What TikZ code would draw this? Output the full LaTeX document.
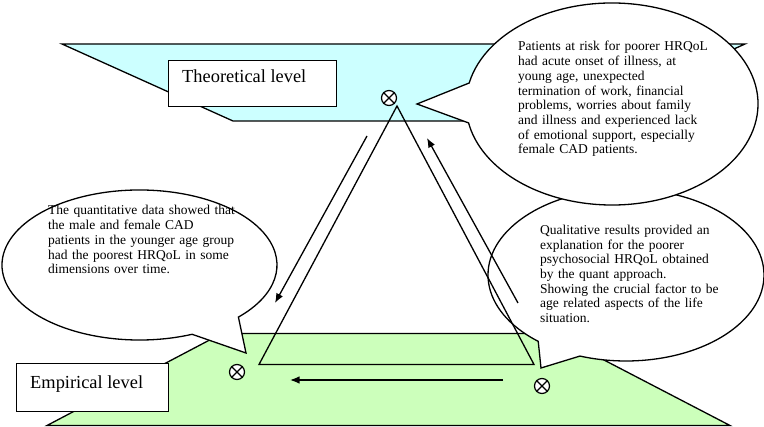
\documentclass[tikz,border=0pt]{standalone}
\usepackage{fontspec}
\setmainfont{Liberation Serif}
\usetikzlibrary{arrows.meta,calc}
\definecolor{theorycyan}{HTML}{CCFFFF}
\definecolor{empgreen}{HTML}{CCFFBB}
\begin{document}
\begin{tikzpicture}[x=1pt,y=-1pt,
  plane/.style={draw=black,line width=1.3pt,line join=miter},
  levelbox/.style={draw=black,fill=white,line width=1.3pt,inner sep=0pt,anchor=north west},
  bubble/.style={draw=black,fill=white,line width=1.3pt,line join=miter},
  bubbletext/.style={inner sep=0pt,anchor=base west,align=left,text width=250pt,font=\fontsize{13.5}{14.7}\selectfont},
  leveltext/.style={inner sep=0pt,anchor=base west,font=\fontsize{18.4}{20}\selectfont},
  otimesmark/.style={circle,draw=black,fill=white,line width=1.2pt,minimum size=15pt,inner sep=0pt},
  flow/.style={line width=1.3pt,-{Latex[length=9.5pt,width=7.5pt]}},
  tri/.style={line width=1.3pt,line join=miter}
]
\useasboundingbox (0,0) rectangle (764,427);

% planes
\draw[plane,fill=theorycyan] (62,44) -- (745,44) -- (575,121) -- (233,121) -- cycle;
\draw[plane,fill=empgreen] (222,333.5) -- (553,333.5) -- (730,425.5) -- (47,425.5) -- cycle;

% level boxes
\node (theorybox) [levelbox,minimum width=168pt,minimum height=46pt] at (168,60) {};
\node (theorytext) [leveltext] at (182,83) {Theoretical level};
\node (empbox) [levelbox,minimum width=152pt,minimum height=48pt] at (16,363) {};
\node (emptext) [leveltext] at (30,389) {Empirical level};

% otimes marks
\foreach \nm/\px/\py in {otop/389/98, obl/237/372, obr/542/386}{
  \node (\nm) [otimesmark] at (\px,\py) {};
  \draw[line width=1.2pt] (\nm.north east) -- (\nm.south west) (\nm.north west) -- (\nm.south east);
}

% bubbles
\draw[bubble] (246,353) -- ($(139.5,265)+(67.5:137.5 and 75)$)
  arc[start angle=67.5,end angle=404,x radius=137.5,y radius=75] -- cycle;
\node (lefttext) [bubbletext] at (48,215) {The quantitative data showed that\\the male and female CAD\\patients in the younger age group\\had the poorest HRQoL in some\\dimensions over time.};

\draw[bubble] (541,368) -- ($(626,275)+(129.5:138 and 86)$)
  arc[start angle=129.5,end angle=469.5,x radius=138,y radius=86] -- cycle;
\node (righttext) [bubbletext] at (540,234.5) {Qualitative results provided an\\explanation for the poorer\\psychosocial HRQoL obtained\\by the quant approach.\\Showing the crucial factor to be\\age related aspects of the life\\situation.};

\draw[bubble] (417,104) -- ($(612,104)+(192:146 and 101)$)
  arc[start angle=192,end angle=529.2,x radius=146,y radius=101] -- cycle;
\node (toptext) [bubbletext] at (518,51) {Patients at risk for poorer HRQoL\\had acute onset of illness, at\\young age, unexpected\\termination of work, financial\\problems, worries about family\\and illness and experienced lack\\of emotional support, especially\\female CAD patients.};

% triangle
\coordinate (apex) at (397,106);
\coordinate (bl) at (259,364.5);
\coordinate (br) at (534,364.5);
\draw[tri] (apex) -- (bl) -- (br) -- cycle;

% arrows
\coordinate (a1s) at (367,136);
\coordinate (a1e) at (275,303);
\coordinate (a2s) at (518,303);
\coordinate (a2e) at (427,138);
\coordinate (a3s) at (503,380);
\coordinate (a3e) at (290,380);
\draw[flow] (a1s) -- (a1e);
\draw[flow] (a2s) -- (a2e);
\draw[flow] (a3s) -- (a3e);
\end{tikzpicture}
\end{document}
